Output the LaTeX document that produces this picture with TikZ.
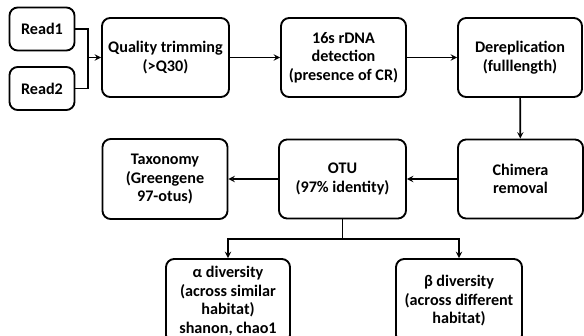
\documentclass[tikz,border=0pt]{standalone}
\usepackage{fontspec}
\setmainfont{Carlito}
\usepackage{tikz}
\usetikzlibrary{arrows, positioning, calc}
\tikzstyle{arrow} = [line width=1.4pt,->,>=stealth]
\tikzstyle{line} = [line width=1.4pt]
\tikzstyle{stagebox} = [rectangle, rounded corners=7pt, minimum width=3.75cm, minimum height=2.37cm, align=center, draw=black, line width=1.6pt, font=\bfseries\fontsize{13.8}{15.8}\selectfont]

\begin{document}
\begin{tikzpicture}[x=0.03cm, y=-0.03cm]
    \path[use as bounding box, clip] (0,0) rectangle (584,336);

    % Reads
    \node[stagebox, minimum width=1.95cm, minimum height=1.29cm] (read1) at (42,29) {Read1};
    \node[stagebox, minimum width=1.95cm, minimum height=1.29cm] (read2) at (42,88.5) {Read2};

    % Top row
    \node[stagebox, minimum width=3.81cm] (qual) at (165.5,57.5) {Quality trimming\\(>Q30)};
    \node[stagebox] (rdna) at (343.5,57.5) {16s rDNA\\detection\\(presence of CR)};
    \node[stagebox, minimum width=3.72cm] (derep) at (520,57.5) {Dereplication\\(fulllength)};

    % Middle row
    \node[stagebox] (chim) at (520.5,179) {Chimera\\removal};
    \node[stagebox, minimum width=3.81cm] (otu) at (342.5,179) {OTU\\(97\% identity)};
    \node[stagebox, minimum height=2.4cm] (taxo) at (165,179) {Taxonomy\\(Greengene\\97-otus)};

    % Diversity
    \node[stagebox, minimum width=3.72cm, minimum height=2.52cm] (alpha) at (228,301) {α diversity\\(across similar\\habitat)\\shanon, chao1};
    \node[stagebox, minimum width=3.78cm, minimum height=2.52cm] (beta) at (459,301) {β diversity\\(across different\\habitat)};

    % Connectors
    \coordinate (join) at (88,57.5);
    \coordinate (split) at (342.5,239);
    \draw[line] (read1.east) -| (join);
    \draw[line] (read2.east) -| (join);
    \draw[arrow] (join) -- (qual.west);
    \draw[arrow] (qual) -- (rdna);
    \draw[arrow] (rdna) -- (derep);
    \draw[arrow] (derep) -- (chim);
    \draw[arrow] (chim) -- (otu);
    \draw[arrow] (otu) -- (taxo);
    \draw[line] (otu.south) -- (split);
    \draw[arrow] (split) -| (alpha.north);
    \draw[arrow] (split) -| (beta.north);

\end{tikzpicture}
\end{document}
